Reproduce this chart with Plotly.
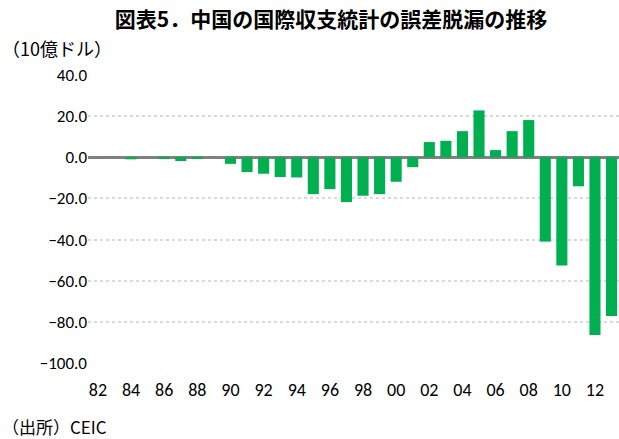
import plotly.graph_objects as go

years = list(range(1982, 2014))
values = [0.0, 0.0, -1.0, 0.0, -0.8, -1.8, -0.8, 0.0, -3.2, -7.2,
          -8.0, -9.6, -9.8, -17.9, -15.5, -21.8, -18.7, -17.9, -11.9, -4.8,
          7.4, 8.0, 12.7, 22.8, 3.5, 12.7, 18.1, -41.0, -52.6, -14.1,
          -86.4, -77.1]
tick_years = list(range(1982, 2014, 2))
tick_labels = [f"{y % 100:02d}" for y in tick_years]
y_ticks = [40, 20, 0, -20, -40, -60, -80, -100]

FONT = "Calibri, Carlito, Lato, 'Noto Sans CJK JP', sans-serif"
JP = "'Noto Sans CJK JP', sans-serif"
W, H = 619, 439
L, R, T, B = 88, 0, 75, 76
pw = W - L - R
ph = H - T - B

fig = go.Figure(go.Bar(
    x=years, y=values,
    marker=dict(color="#00B050", line=dict(width=0)),
))

fig.update_layout(
    width=W, height=H,
    margin=dict(l=L, r=R, t=T, b=B),
    plot_bgcolor="white", paper_bgcolor="white",
    bargap=0.33,
    showlegend=False,
    font=dict(family=FONT, size=16, color="black"),
    title=dict(text="<b>図表5．中国の国際収支統計の誤差脱漏の推移</b>",
               x=331 / W, xanchor="center", y=1 - 20 / H, yanchor="middle",
               font=dict(family=JP, size=21)),
    annotations=[
        dict(text="（10億ドル）", xref="paper", yref="paper",
             x=(0 - L) / pw, y=1 + (T - 48) / ph,
             xanchor="left", yanchor="middle", showarrow=False,
             font=dict(family=JP, size=18)),
        dict(text="（出所）CEIC", xref="paper", yref="paper",
             x=(0 - L) / pw, y=-(426 - (T + ph)) / ph,
             xanchor="left", yanchor="middle", showarrow=False,
             font=dict(family=JP, size=17)),
    ],
)

fig.update_xaxes(
    range=[1981.4, 2013.45],
    tickvals=tick_years, ticktext=tick_labels,
    showgrid=False, showline=False, ticks="",
    ticklabelstandoff=14,
    tickfont=dict(family=FONT, size=18),
)
fig.update_yaxes(
    range=[-100, 40],
    tickvals=y_ticks, tickformat=".1f",
    showgrid=True, gridcolor="#d9d9d9", gridwidth=2, griddash="dot",
    zeroline=True, zerolinecolor="#808080", zerolinewidth=3,
    showline=False, ticks="",
    ticklabelstandoff=0,
    tickfont=dict(family=FONT, size=17),
)

fig.write_html("out.html", config={"displayModeBar": False},
               post_script="document.body.style.margin='0';document.body.style.overflow='hidden';")
